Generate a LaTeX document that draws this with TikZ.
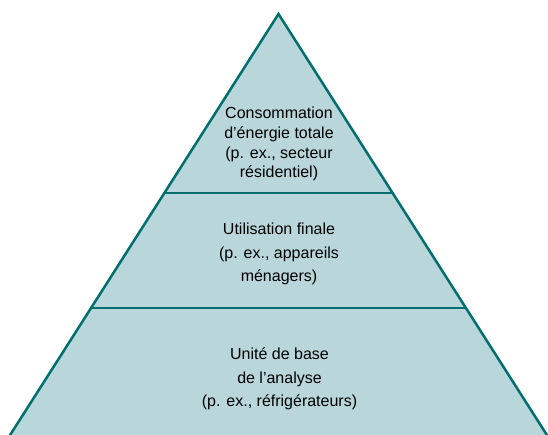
\documentclass[tikz,border=0pt]{standalone}
\usepackage{fontspec}
\setmainfont{Liberation Sans}
\definecolor{pyrfill}{HTML}{B9D6DA}
\definecolor{pyrline}{HTML}{006F6E}
\begin{document}
\begin{tikzpicture}[x=1pt,y=-1pt,
  lbl/.style={anchor=base,inner sep=0pt,font=\fontsize{16}{20}\selectfont,text=black},
  edge/.style={draw=pyrline,line width=2.5pt}]
\useasboundingbox (0,0) rectangle (548,435);
\clip (0,0) rectangle (548,435);
\coordinate (apex) at (278.5,14);
\coordinate (bl) at (-5,458.7);
\coordinate (br) at (562,458.7);
\fill[pyrfill] (apex) -- (bl) -- (br) -- cycle;
% dividing lines
\coordinate (l1) at (164,193);
\coordinate (r1) at (393,193);
\coordinate (l2) at (91.5,308);
\coordinate (r2) at (465.5,308);
\draw[edge] (l1) -- (r1);
\draw[edge] (l2) -- (r2);
\draw[edge,line join=miter] (bl) -- (apex) -- (br);
% texts
\node[lbl] (t1) at (279,119) {Consommation};
\node[lbl] (t2) at (279,138.7) {d’énergie totale};
\node[lbl] (t3) at (279,158.3) {(p. ex., secteur};
\node[lbl] (t4) at (279,178) {résidentiel)};
\node[lbl] (m1) at (279,235) {Utilisation finale};
\node[lbl] (m2) at (279,258.5) {(p. ex., appareils};
\node[lbl] (m3) at (279,282) {ménagers)};
\node[lbl] (b1) at (279.5,359) {Unité de base};
\node[lbl] (b2) at (279.5,383) {de l’analyse};
\node[lbl] (b3) at (279.5,406) {(p. ex., réfrigérateurs)};
\end{tikzpicture}
\end{document}
